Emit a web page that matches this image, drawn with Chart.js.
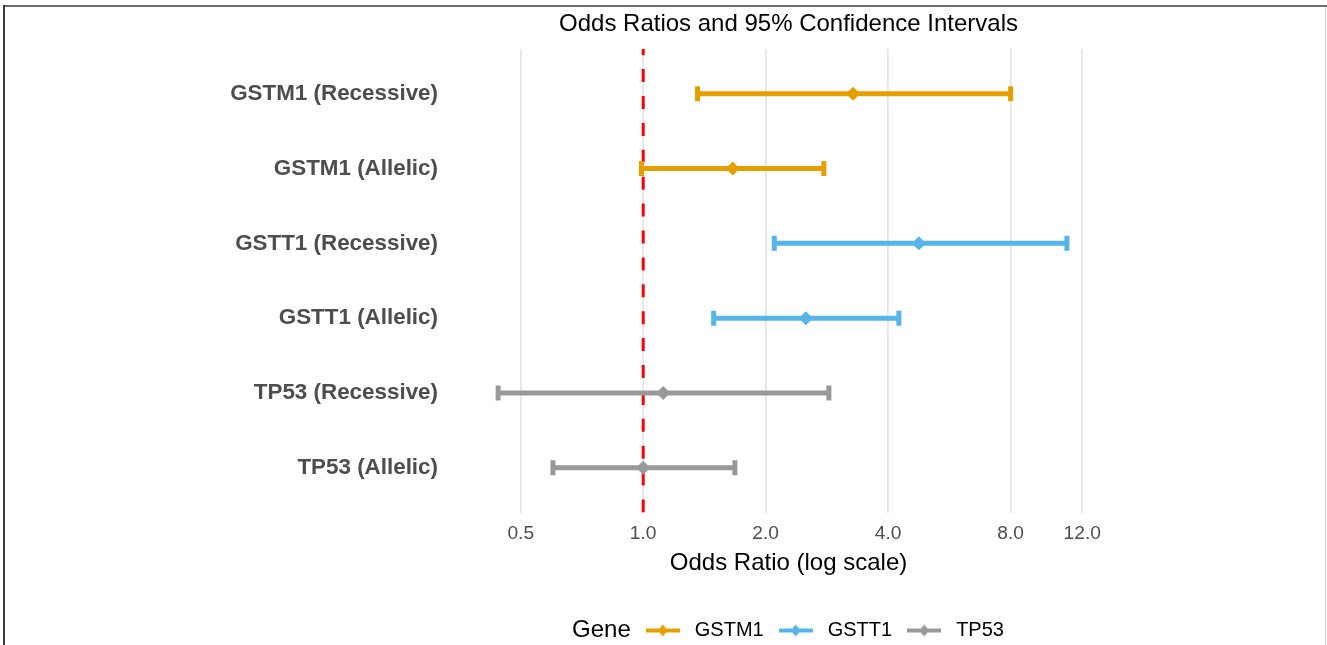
<!DOCTYPE html>
<html><head><meta charset="utf-8">
<script src="https://cdn.jsdelivr.net/npm/chart.js@4.4.1/dist/chart.umd.min.js"></script>
<style>
html,body{margin:0;padding:0;background:#fff;overflow:hidden;}
#wrap{position:absolute;left:0;top:0;width:1327px;height:645px;}
.frame{position:absolute;}
</style></head><body>
<div id="wrap"><canvas id="c"></canvas></div>
<div class="frame" style="left:4px;top:5px;width:1323px;height:2px;background:#6e6e6e"></div>
<div class="frame" style="left:3px;top:5px;width:2px;height:640px;background:#3c3c3c"></div>
<div class="frame" style="left:1325px;top:7px;width:1px;height:638px;background:#d4d4d4"></div>
<script>
// ---- data ----
const categories = ['GSTM1 (Recessive)', 'GSTM1 (Allelic)', 'GSTT1 (Recessive)', 'GSTT1 (Allelic)', 'TP53 (Recessive)', 'TP53 (Allelic)'];
const rowGene   = ['GSTM1', 'GSTM1', 'GSTT1', 'GSTT1', 'TP53', 'TP53'];
const oddsRatio = [3.28, 1.66, 4.76, 2.51, 1.12, 1.00];
const ciLower   = [1.36, 0.99, 2.10, 1.49, 0.44, 0.60];
const ciUpper   = [8.00, 2.78, 11.0, 4.25, 2.86, 1.68];
const xTickValues = [0.5, 1, 2, 4, 8, 12];
const refValue = 1;
const geneNames = ['GSTM1', 'GSTT1', 'TP53'];
const geneColors = ['#E69F00', '#56B4E9', '#999999'];
const legendTitle = 'Gene';
const chartTitle = 'Odds Ratios and 95% Confidence Intervals';
const xAxisTitle = 'Odds Ratio (log scale)';

// axis limits (log scale, expanded)
const X_MIN = 0.3731, X_MAX = 13.88;
const Y_MIN = -0.6, Y_MAX = categories.length - 1 + 0.6;

const FONT = "'Liberation Sans', Arial, sans-serif";
Chart.defaults.font.family = FONT;

function colorOf(g) { return geneColors[geneNames.indexOf(g)]; }

function makeGlyph(color) {
  const cv = document.createElement('canvas');
  cv.width = 34; cv.height = 14;
  const c = cv.getContext('2d');
  c.fillStyle = color;
  c.fillRect(0, 5, 34, 4);
  c.beginPath();
  c.moveTo(17, 1); c.lineTo(22, 7); c.lineTo(17, 13); c.lineTo(12, 7); c.closePath();
  c.fill();
  return cv;
}
const glyphs = geneNames.map((g, k) => makeGlyph(geneColors[k]));

const datasets = [];
// reference line at OR = 1
datasets.push({
  type: 'line', label: 'ref',
  data: [{x: refValue, y: Y_MAX}, {x: refValue, y: Y_MIN}],
  borderColor: '#ff0000', borderWidth: 3, borderDash: [13, 13.9],
  pointRadius: 0, order: 10
});
// confidence intervals
categories.forEach((cat, i) => {
  const c = colorOf(rowGene[i]);
  datasets.push({
    type: 'line', label: cat,
    data: [{x: ciLower[i], y: i}, {x: ciUpper[i], y: i}],
    borderColor: c, borderWidth: 5, borderCapStyle: 'butt',
    pointStyle: 'line', rotation: 90, pointRadius: 7.5,
    pointBorderWidth: 5, pointBorderColor: c, pointBackgroundColor: c,
    order: 5
  });
});
// point estimates
geneNames.forEach((g, k) => {
  const pts = [];
  categories.forEach((cat, i) => { if (rowGene[i] === g) pts.push({x: oddsRatio[i], y: i}); });
  datasets.push({
    type: 'scatter', label: g, data: pts,
    pointStyle: 'rectRot', pointRadius: 7,
    backgroundColor: geneColors[k], borderColor: geneColors[k], borderWidth: 0,
    order: 1
  });
});

const geneTitlePlugin = {
  id: 'geneTitle',
  afterLayout(chart) {
    const lg = chart.legend; if (!lg) return;
    const ctx = chart.ctx;
    ctx.save(); ctx.font = '24px ' + FONT;
    const w = ctx.measureText(legendTitle).width;
    ctx.restore();
    const s = (9 + w) / 2;
    lg.left += s; lg.right += s;
  },
  afterDraw(chart) {
    const lg = chart.legend; if (!lg || !lg.legendHitBoxes.length) return;
    const hb = lg.legendHitBoxes[0];
    const ctx = chart.ctx;
    ctx.save();
    ctx.font = '24px ' + FONT;
    ctx.fillStyle = '#000';
    ctx.textAlign = 'right';
    ctx.textBaseline = 'middle';
    ctx.fillText(legendTitle, hb.left + 5 - 15, hb.top + 10);
    ctx.restore();
  }
};

new Chart(document.getElementById('c'), {
  type: 'scatter',
  data: { datasets },
  plugins: [geneTitlePlugin],
  options: {
    responsive: true, maintainAspectRatio: false, animation: false,
    devicePixelRatio: 1,
    layout: { padding: { left: 0, right: 219, top: 0, bottom: -5.5 } },
    plugins: {
      tooltip: { enabled: false },
      title: {
        display: true, text: chartTitle, fullSize: false,
        color: '#000', font: { size: 24, weight: 'normal', lineHeight: 1.2 },
        padding: { top: 9.6, bottom: 10.6 }
      },
      legend: {
        display: true, position: 'bottom', fullSize: false, align: 'center',
        labels: {
          usePointStyle: true, pointStyleWidth: 44, padding: 10,
          color: '#000', font: { size: 20 },
          generateLabels: () => geneNames.map((g, k) => ({
            text: g, pointStyle: glyphs[k], fillStyle: geneColors[k],
            strokeStyle: geneColors[k], lineWidth: 0, hidden: false, fontColor: '#000'
          }))
        },
        onClick: () => {}
      }
    },
    scales: {
      x: {
        type: 'logarithmic', min: X_MIN, max: X_MAX, bounds: 'data',
        afterBuildTicks: (s) => { s.ticks = xTickValues.map(v => ({ value: v })); },
        ticks: {
          autoSkip: false, maxRotation: 0, padding: 10,
          color: '#4d4d4d', font: { size: 19.2 },
          callback: (v) => Number(v).toFixed(1)
        },
        grid: { display: true, color: '#e6e6e6', lineWidth: 1.8, drawTicks: false },
        border: { display: false },
        title: {
          display: true, text: xAxisTitle, color: '#000',
          font: { size: 24, lineHeight: 1.2 }, padding: { top: -6.9, bottom: 33.06 }
        }
      },
      y: {
        type: 'linear', reverse: true, min: Y_MIN, max: Y_MAX,
        afterBuildTicks: (s) => { s.ticks = categories.map((c, i) => ({ value: i })); },
        afterFit: (s) => { s.width = 469; },
        ticks: {
          autoSkip: false, padding: 31, color: '#4d4d4d',
          font: { size: 22.4, weight: 'bold' },
          callback: (v) => categories[v]
        },
        grid: { display: false, drawTicks: false },
        border: { display: false }
      }
    }
  }
});
</script>
</body></html>
